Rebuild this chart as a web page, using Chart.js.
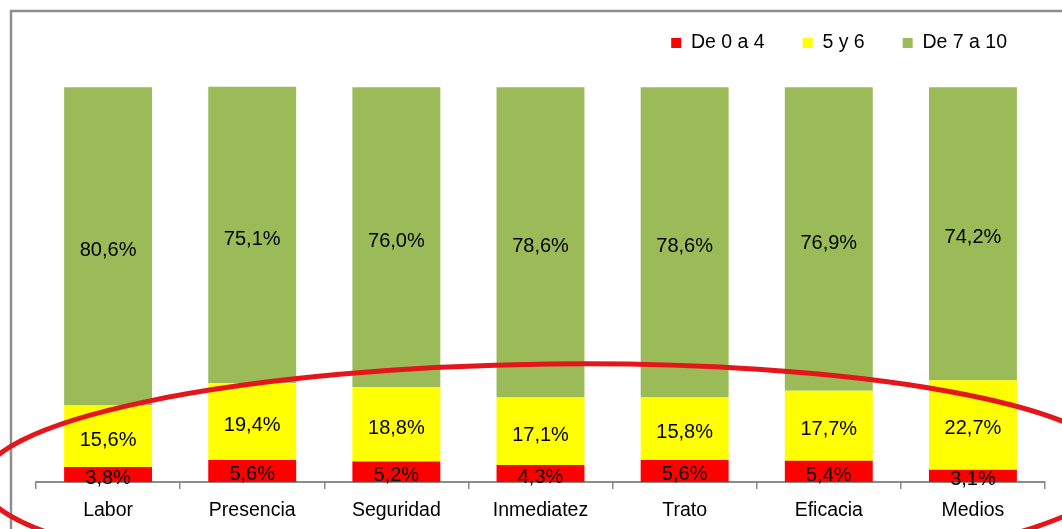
<!DOCTYPE html>
<html>
<head>
<meta charset="utf-8">
<script src="https://cdn.jsdelivr.net/npm/chart.js@4.4.1/dist/chart.umd.min.js"></script>
<style>
    body { margin: 0; background: #fff; }
    #wrap { width: 1062px; height: 529px; overflow: hidden; }
</style>
</head>
<body>
<div id="wrap"><canvas id="barchart" width="1062" height="529"></canvas></div>
<script>
const categories = ['Labor', 'Presencia', 'Seguridad', 'Inmediatez', 'Trato', 'Eficacia', 'Medios'];
const seriesNames = ['De 0 a 4', '5 y 6', 'De 7 a 10'];
const low = [3.8, 5.6, 5.2, 4.3, 5.6, 5.4, 3.1];
const mid = [15.6, 19.4, 18.8, 17.1, 15.8, 17.7, 22.7];
const high = [80.6, 75.1, 76.0, 78.6, 78.6, 76.9, 74.2];

const colors = ['#FF0000', '#FFFF00', '#9BBB59'];
const fontFamily = '"Liberation Sans", Arial, sans-serif';

// gray frame on the top and left edges
const frame = {
    id: 'frame',
    beforeDraw(chart) {
        const ctx = chart.ctx;
        ctx.save();
        ctx.strokeStyle = '#8e8e8e';
        ctx.lineWidth = 2.5;
        ctx.beginPath();
        ctx.moveTo(11, chart.height);
        ctx.lineTo(11, 11);
        ctx.lineTo(chart.width, 11);
        ctx.stroke();
        ctx.restore();
    }
};

// percentage text in the middle of each segment
const segmentLabels = {
    id: 'segmentLabels',
    afterDatasetsDraw(chart) {
        const ctx = chart.ctx;
        ctx.save();
        ctx.font = '20px ' + fontFamily;
        ctx.fillStyle = '#000';
        ctx.textAlign = 'center';
        ctx.textBaseline = 'middle';
        chart.data.datasets.forEach((ds, i) => {
            chart.getDatasetMeta(i).data.forEach((bar, j) => {
                const txt = ds.data[j].toFixed(1).replace('.', ',') + '%';
                ctx.fillText(txt, bar.x, (bar.y + bar.base) / 2 + 4);
            });
        });
        ctx.restore();
    }
};

// red hand-drawn style ring around the lower part of the bars
const ring = {
    id: 'ring',
    afterDraw(chart) {
        const ctx = chart.ctx;
        ctx.save();
        ctx.strokeStyle = '#E2161B';
        ctx.lineWidth = 5;
        ctx.beginPath();
        ctx.ellipse(550, 475, 568, 111, -0.012, 0, Math.PI * 2);
        ctx.stroke();
        ctx.restore();
    }
};

const ctx = document.getElementById('barchart').getContext('2d');

new Chart(ctx, {
    type: 'bar',
    data: {
        labels: categories,
        datasets: [
            { label: seriesNames[0], data: low, backgroundColor: colors[0] },
            { label: seriesNames[1], data: mid, backgroundColor: colors[1] },
            { label: seriesNames[2], data: high, backgroundColor: colors[2] }
        ]
    },
    options: {
        responsive: false,
        animation: false,
        devicePixelRatio: 1,
        layout: {
            padding: { left: 36, right: 17, top: -4.75, bottom: -3.4 }
        },
        datasets: {
            bar: { categoryPercentage: 1, barPercentage: 0.61 }
        },
        scales: {
            x: {
                stacked: true,
                grid: {
                    offset: true,
                    drawOnChartArea: false,
                    drawTicks: true,
                    tickLength: 7,
                    color: '#8c8c8c',
                    lineWidth: 1.5
                },
                border: { color: '#8c8c8c', width: 2 },
                ticks: {
                    padding: 10,
                    color: '#000',
                    font: { family: fontFamily, size: 19.5 }
                }
            },
            y: {
                stacked: true,
                display: false,
                min: 0,
                max: 106.2
            }
        },
        plugins: {
            legend: {
                position: 'top',
                align: 'end',
                labels: {
                    boxWidth: 10,
                    boxHeight: 10,
                    padding: 38,
                    color: '#000',
                    font: { family: fontFamily, size: 19.5 }
                }
            },
            tooltip: { enabled: false }
        }
    },
    plugins: [frame, segmentLabels, ring]
});
</script>
</body>
</html>
